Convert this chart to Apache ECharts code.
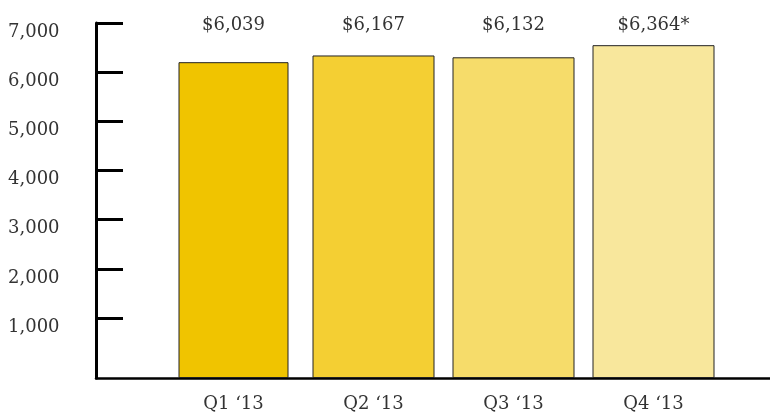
<!DOCTYPE html>
<html>
<head>
<meta charset="utf-8">
<script src="https://cdn.jsdelivr.net/npm/echarts@6/dist/echarts.min.js"></script>
<style>html,body{margin:0;padding:0;background:#fff}#c{width:770px;height:416px}</style>
</head>
<body>
<div id="c"></div>
<script>
const categories = ['Q1 \u201813', 'Q2 \u201813', 'Q3 \u201813', 'Q4 \u201813'];
const values = [6039, 6167, 6132, 6364];
const valueNotes = ['', '', '', '*'];
const yTicks = [1000, 2000, 3000, 4000, 5000, 6000, 7000];
const barColors = ['#F0C400', '#F4CF33', '#F6DC6A', '#F8E79C'];

const FONT = 'DejaVu Serif';
const TXT = '#333333';

const chart = echarts.init(document.getElementById('c'), null, {renderer: 'canvas'});
const fmt = v => '$' + v.toLocaleString('en-US');

chart.setOption({
  animation: false,
  backgroundColor: '#ffffff',
  grid: [
    {left: 96, right: 0, top: 23, bottom: 38},
    {left: 163.5, right: 46.5, top: 40, bottom: 38}
  ],
  xAxis: [
    {gridIndex: 0, type: 'category', data: [''],
     axisLine: {show: true, onZero: false, lineStyle: {color: '#000', width: 2.5}},
     axisTick: {show: false}, axisLabel: {show: false}, splitLine: {show: false}},
    {gridIndex: 1, type: 'category', position: 'bottom', data: categories,
     axisLine: {show: false}, axisTick: {show: false},
     axisLabel: {fontFamily: FONT, fontSize: 18, color: TXT, margin: 17}},
    {gridIndex: 1, type: 'category', position: 'top', data: categories,
     axisLine: {show: false}, axisTick: {show: false},
     axisLabel: {fontFamily: FONT, fontSize: 18, color: TXT, margin: 6,
       formatter: (v, i) => fmt(values[i]) + valueNotes[i]}}
  ],
  yAxis: [
    {gridIndex: 0, type: 'value', min: -220, max: 7000,
     axisLine: {show: true, onZero: false, lineStyle: {color: '#000', width: 3}},
     axisTick: {show: true, inside: true, length: 27, customValues: yTicks,
       lineStyle: {color: '#000', width: 3}},
     axisLabel: {customValues: yTicks, align: 'left', verticalAlign: 'top', margin: 88,
       fontFamily: FONT, fontSize: 18, color: TXT,
       formatter: v => v.toLocaleString('en-US')},
     splitLine: {show: false}},
    {gridIndex: 1, type: 'value', min: 0, max: 6463, show: false, splitLine: {show: false}}
  ],
  series: [
    {type: 'bar', xAxisIndex: 2, yAxisIndex: 1, barWidth: 110,
     data: values.map((v, i) => i === 0 ? v : '-'),
     itemStyle: {color: p => barColors[p.dataIndex], borderColor: '#222', borderWidth: 1}},
    {type: 'bar', xAxisIndex: 1, yAxisIndex: 1, barWidth: 122,
     data: values.map((v, i) => i === 0 ? '-' : v),
     itemStyle: {color: p => barColors[p.dataIndex], borderColor: '#222', borderWidth: 1}}
  ]
});
</script>
</body>
</html>
